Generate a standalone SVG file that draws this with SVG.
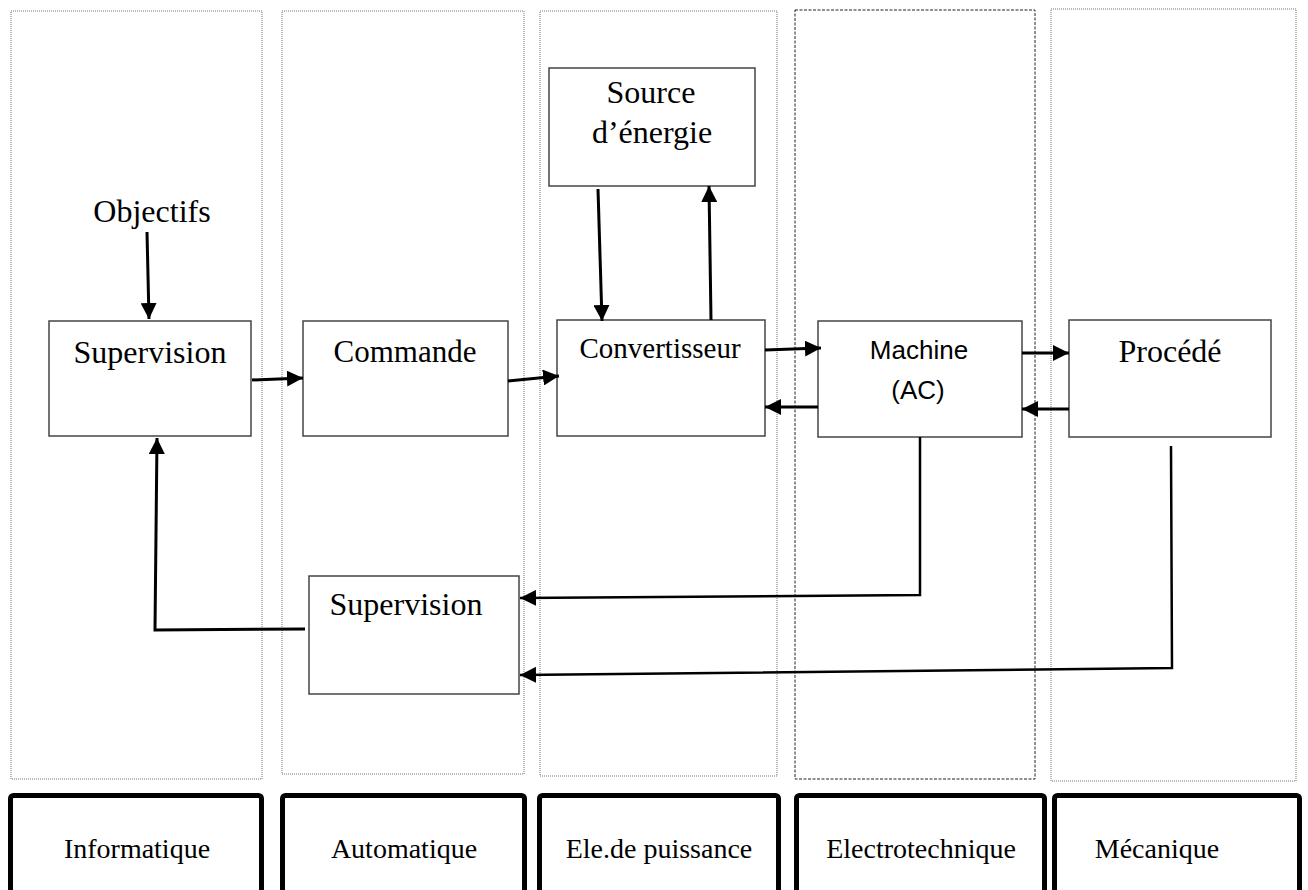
<svg xmlns="http://www.w3.org/2000/svg" width="1308" height="890" viewBox="0 0 1308 890">
<style>
.col{fill:none;stroke:#777;stroke-width:1;stroke-dasharray:1,1}
.col4{fill:none;stroke:#222;stroke-width:1;stroke-dasharray:3,1.5}
.node{fill:#fff;stroke:#444;stroke-width:1.5}
.dom{fill:#fff;stroke:#000;stroke-width:5}
.t{font-family:"Liberation Serif","Times New Roman",serif;fill:#000;text-anchor:middle}
.s{font-family:"Liberation Sans",Arial,sans-serif;fill:#000;text-anchor:middle}
.c{fill:none;stroke:#000;stroke-width:3}
.f{fill:none;stroke:#000;stroke-width:2.5}
</style>
<defs>
<marker id="ah" markerUnits="userSpaceOnUse" markerWidth="16" markerHeight="16" viewBox="0 0 16 16" refX="16" refY="8" orient="auto">
<path d="M0,0 L16,8 L0,16 Z" fill="#000"/>
</marker>
</defs>
<rect width="1308" height="890" fill="#fff"/>
<g id="columns">
<rect class="col" x="11" y="11" width="251" height="768"/>
<rect class="col" x="282" y="11" width="242" height="763"/>
<rect class="col" x="540" y="11" width="237" height="765"/>
<rect class="col4" x="795" y="10" width="240" height="769"/>
<rect class="col" x="1051" y="9" width="245" height="772"/>
</g>
<g id="domain-informatique"><rect class="dom" x="10.5" y="795.5" width="251" height="110" rx="3"/><text class="t" x="137" y="858" font-size="28">Informatique</text></g>
<g id="domain-automatique"><rect class="dom" x="282.5" y="795.5" width="242" height="110" rx="3"/><text class="t" x="404" y="858" font-size="28">Automatique</text></g>
<g id="domain-elepuissance"><rect class="dom" x="539.5" y="795.5" width="239" height="110" rx="3"/><text class="t" x="659" y="858" font-size="28">Ele.de puissance</text></g>
<g id="domain-electrotechnique"><rect class="dom" x="796.5" y="795.5" width="248" height="110" rx="3"/><text class="t" x="921" y="858" font-size="28">Electrotechnique</text></g>
<g id="domain-mecanique"><rect class="dom" x="1054.5" y="795.5" width="245" height="110" rx="3"/><text class="t" x="1157" y="858" font-size="28">Mécanique</text></g>
<g id="objectifs"><text class="t" x="152" y="222" font-size="32">Objectifs</text></g>
<g id="supervision-top"><rect class="node" x="49" y="321" width="202" height="115"/><text class="t" x="150" y="363" font-size="32">Supervision</text></g>
<g id="commande"><rect class="node" x="303" y="321" width="205" height="115"/><text class="t" x="405" y="362" font-size="31">Commande</text></g>
<g id="source"><rect class="node" x="549" y="68" width="206" height="118"/><text class="t" x="651" y="103" font-size="32">Source</text><text class="t" x="652" y="143" font-size="32">d’énergie</text></g>
<g id="convertisseur"><rect class="node" x="557" y="320" width="208" height="116"/><text class="t" x="660" y="358" font-size="29">Convertisseur</text></g>
<g id="machine"><rect class="node" x="818" y="321" width="204" height="116"/><text class="s" x="919" y="359" font-size="26">Machine</text><text class="s" x="918" y="399" font-size="26">(AC)</text></g>
<g id="procede"><rect class="node" x="1069" y="320" width="202" height="117"/><text class="t" x="1170" y="362" font-size="32">Procédé</text></g>
<g id="supervision-bottom"><rect class="node" x="309" y="576" width="210" height="118"/><text class="t" x="406" y="615" font-size="32">Supervision</text></g>
<g id="connectors">
<path class="c" d="M147,232 L149,319" marker-end="url(#ah)"/>
<path class="c" d="M252,380 L303,378" marker-end="url(#ah)"/>
<path class="c" d="M508,381 L559,376" marker-end="url(#ah)"/>
<path class="c" d="M765,350 L821,348" marker-end="url(#ah)"/>
<path class="c" d="M818,407 L765,407" marker-end="url(#ah)"/>
<path class="c" d="M1022,353 L1069,353" marker-end="url(#ah)"/>
<path class="c" d="M1069,409 L1022,409" marker-end="url(#ah)"/>
<path class="c" d="M598,189 L602,321" marker-end="url(#ah)"/>
<path class="c" d="M711,320 L709,186" marker-end="url(#ah)"/>
<path class="f" d="M920,437 L920,595 L520,598" marker-end="url(#ah)"/>
<path class="f" d="M1171,446 L1172,668 L520,675" marker-end="url(#ah)"/>
<path class="c" d="M305,629 L155,630 L157,438" marker-end="url(#ah)"/>
</g>
</svg>
